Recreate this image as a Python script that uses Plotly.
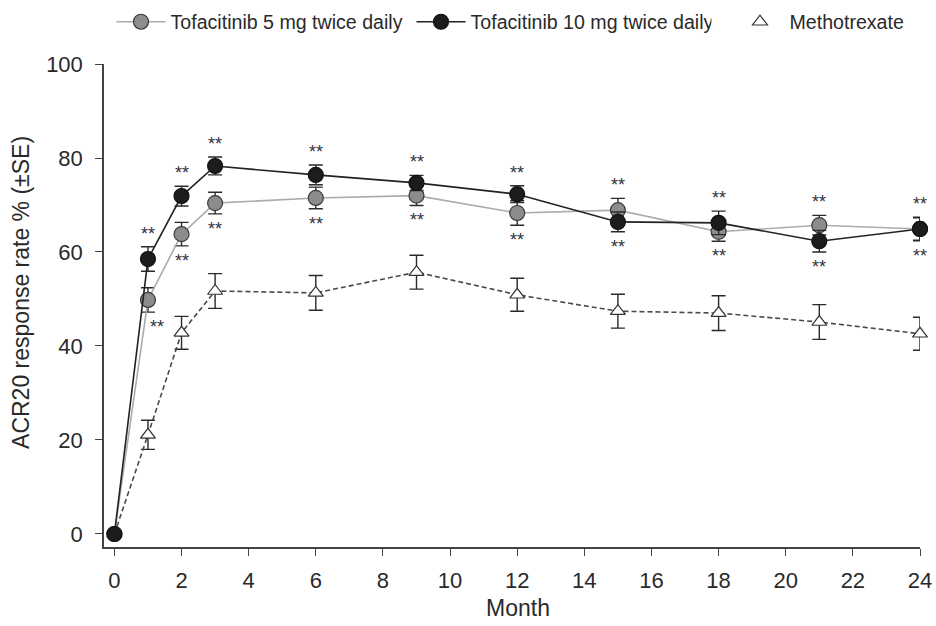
import plotly.graph_objects as go

# ACR20 response over 24 months (mean % with standard error)
months = [0, 1, 2, 3, 6, 9, 12, 15, 18, 21, 24]
tofa5 = [0, 49.8, 63.8, 70.4, 71.5, 72.0, 68.3, 68.9, 64.3, 65.7, 64.9]
tofa5_se = [0, 2.6, 2.5, 2.3, 2.3, 2.1, 2.6, 2.5, 2.0, 2.1, 2.4]
tofa10 = [0, 58.5, 71.9, 78.3, 76.4, 74.7, 72.3, 66.4, 66.2, 62.3, 64.9]
tofa10_se = [0, 2.6, 2.1, 1.9, 2.1, 1.6, 1.8, 2.1, 2.5, 2.3, 2.5]
mtx = [0, 21.1, 42.8, 51.7, 51.3, 55.7, 50.9, 47.4, 47.0, 45.1, 42.6]
mtx_se = [0, 3.1, 3.5, 3.7, 3.7, 3.6, 3.5, 3.6, 3.7, 3.7, 3.5]

# months with ** (p<0.001 vs methotrexate) for each tofacitinib dose
sig_months = [1, 2, 3, 6, 9, 12, 15, 18, 21, 24]

x_ticks = list(range(0, 25, 2))
y_ticks = [0, 20, 40, 60, 80, 100]

FONT = "Liberation Sans, Arial, Helvetica, sans-serif"
INK = "#2a2a2a"
STAR = "#2f3440"


def err(se, color):
    return dict(type="data", array=se, visible=True, color=color,
                thickness=1.4, width=7)


fig = go.Figure()

fig.add_trace(go.Scatter(
    x=months, y=mtx, mode="lines+markers", name="Methotrexate",
    showlegend=False, cliponaxis=False,
    line=dict(color="#4a4a4a", width=1.6, dash="5px,3px"),
    marker=dict(symbol="triangle-up", size=13, color="white",
                line=dict(color="#333333", width=1.2)),
    error_y=err(mtx_se, INK),
))
fig.add_trace(go.Scatter(
    x=months, y=tofa5, mode="lines+markers", name="Tofacitinib 5 mg twice daily",
    legendrank=1, cliponaxis=False,
    line=dict(color="#ababab", width=1.6),
    marker=dict(symbol="circle", size=15, color="#8c8c8c",
                line=dict(color="#3a3a3a", width=1.2)),
    error_y=err(tofa5_se, INK),
))
fig.add_trace(go.Scatter(
    x=months, y=tofa10, mode="lines+markers", name="Tofacitinib 10 mg twice daily",
    legendrank=2, cliponaxis=False,
    line=dict(color="#222222", width=1.6),
    marker=dict(symbol="circle", size=15, color="#1c1c1c",
                line=dict(color="#111111", width=1.2)),
    error_y=err(tofa10_se, INK),
))
# legend entry for methotrexate shows the marker only
fig.add_trace(go.Scatter(
    x=[None], y=[None], mode="markers", name="Methotrexate", legend="legend2",
    marker=dict(symbol="triangle-up", size=13, color="white",
                line=dict(color="#333333", width=1.2)),
))

# significance stars above the 10 mg points and below the 5 mg points
for m in sig_months:
    i = months.index(m)
    top = max(tofa5[i] + tofa5_se[i], tofa10[i] + tofa10_se[i])
    bot = min(tofa5[i] - tofa5_se[i], tofa10[i] - tofa10_se[i])
    fig.add_annotation(x=m, y=top, text="**", showarrow=False,
                       yanchor="middle", yshift=13,
                       font=dict(family=FONT, size=18, color=STAR))
    fig.add_annotation(x=m, y=bot, text="**", showarrow=False,
                       yanchor="middle", yshift=-15, xshift=9 if m == 1 else 0,
                       font=dict(family=FONT, size=18, color=STAR))

# axis titles
fig.add_annotation(
    xref="paper", yref="paper", x=-83 / 816, y=0.526, textangle=-90,
    text="ACR20 response rate % (±SE)", showarrow=False,
    xanchor="center", yanchor="middle",
    font=dict(family=FONT, size=23, color=INK),
)
fig.add_annotation(
    xref="paper", yref="paper", x=0.507, y=-61 / 483,
    text="Month", showarrow=False, xanchor="center", yanchor="middle",
    font=dict(family=FONT, size=23, color=INK),
)

axis_common = dict(
    showline=True, linecolor="#444444", linewidth=1.5,
    ticks="outside", ticklen=7, tickwidth=1.3, tickcolor="#444444",
    showgrid=False, zeroline=False,
    tickfont=dict(family=FONT, size=22, color=INK),
)

fig.update_xaxes(range=[-0.31, 24], tickvals=x_ticks, ticklabelstandoff=6, **axis_common)
fig.update_yaxes(range=[-2.77, 100], tickvals=y_ticks, ticklabelstandoff=8, **axis_common)

legend_common = dict(
    orientation="h", xref="container", yref="container",
    xanchor="left", y=1 - 22 / 626, yanchor="middle",
    font=dict(family=FONT, size=19.6, color=INK),
    itemwidth=49, bgcolor="rgba(0,0,0,0)",
)

fig.update_layout(
    width=936, height=626,
    margin=dict(l=104, r=16, t=64, b=79, autoexpand=False),
    plot_bgcolor="white", paper_bgcolor="white",
    font=dict(family=FONT, color=INK),
    legend=dict(x=111.5 / 936, entrywidth=236, entrywidthmode="pixels", **legend_common),
    legend2=dict(x=730.5 / 936, **legend_common),
)

fig.write_html("out.html")
